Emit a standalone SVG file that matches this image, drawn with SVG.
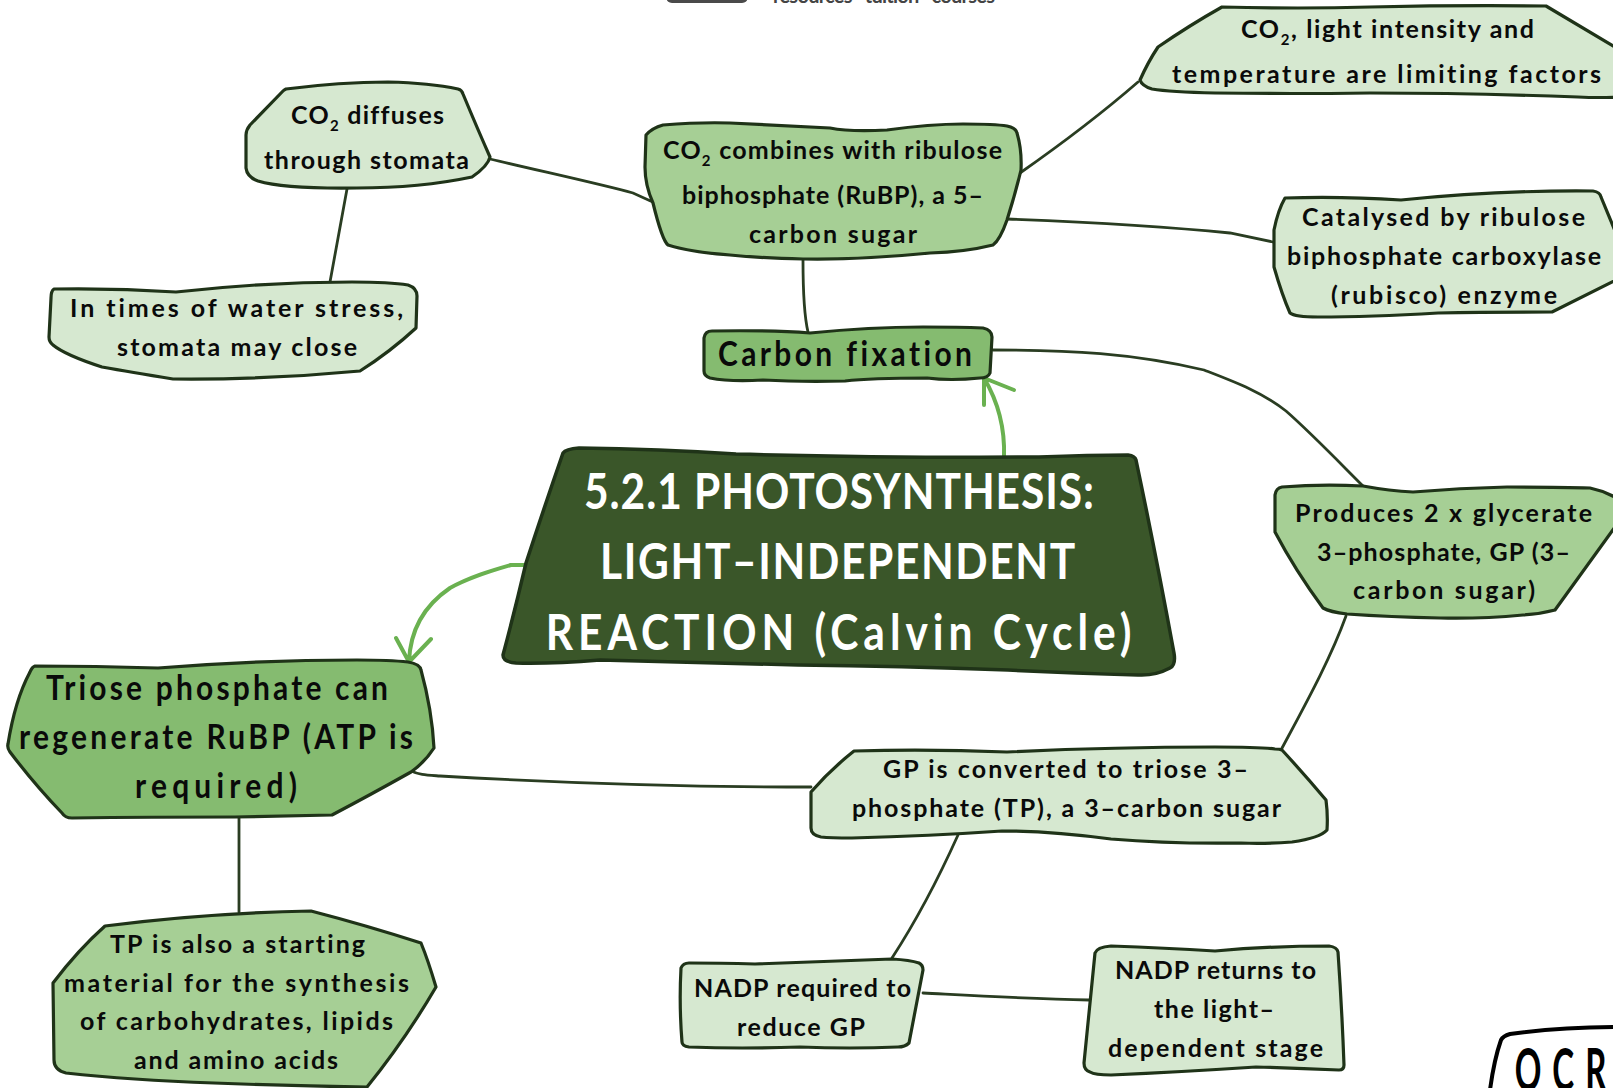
<svg xmlns="http://www.w3.org/2000/svg" width="1613" height="1088" viewBox="0 0 1613 1088">
<style>
text{font-family:"Lato","Noto Sans",sans-serif;font-weight:700;fill:#0a0a0a;font-size:25px;font-variant-ligatures:none}
.t{font-size:34px}
.r{font-size:50px;fill:#fff}
.s{font-size:15px}
.n{stroke:#1f3318;stroke-width:3.2;stroke-linejoin:round}
.l{fill:#d6e8d0}.m{fill:#a6cf95}.d{fill:#85bb70}
.c{fill:none;stroke:#2a3d22;stroke-width:2.8;stroke-linecap:round}
.a{fill:none;stroke:#6ab150;stroke-width:4;stroke-linecap:round;stroke-linejoin:round}
</style>
<rect width="1613" height="1088" fill="#fff"/>
<g id="header">
<rect x="666" y="-30" width="82" height="33" rx="6" fill="#4a4a4a"/>
<text x="773" y="3" textLength="222" style="font-size:20px;fill:#444">resources <tspan fill="#cdeee6" style="fill:#cdeee6">·</tspan> tuition <tspan style="fill:#cdeee6">·</tspan> courses</text>
</g>
<g id="connectors">
<path class="c" d="M490 159C540 171 600 184 633 193L655 203"/>
<path class="c" d="M347 189L330 282"/>
<path class="c" d="M803 260C803 290 804 315 808 332"/>
<path class="c" d="M1020 173C1060 145 1100 115 1138 82"/>
<path class="c" d="M1007 219C1110 223 1180 228 1230 233L1273 242"/>
<path class="c" d="M993 350C1070 350 1132 353 1204 370C1235 382 1262 392 1286 411C1310 432 1335 458 1363 486"/>
<path class="c" d="M1346 616C1330 660 1305 705 1281 750"/>
<path class="c" d="M411 771C420 775 425 775 440 776C560 783 680 787 811 787"/>
<path class="c" d="M958 835C940 875 920 915 892 958"/>
<path class="c" d="M923 993C980 996 1030 999 1089 1000"/>
<path class="c" d="M239 817L239 912"/>
<path class="a" d="M1004 457C1005 430 1000 405 984 378M984 405L984 378L1014 390"/>
<path class="a" d="M526 565L511 565C490 571 470 577 450 588C425 605 410 630 409 662M396 638L409 662L431 639"/>
</g>
<g id="node-co2-diffuses">
<path class="n l" d="M286 89Q340 82 388 82Q430 83 458 89Q462 90 463 94Q478 130 490 157Q488 166 472 177Q420 188 357 188Q285 189 258 181Q247 177 246 168L246 135Q246 130 250 125L283 91Q284 90 286 89Z"/>
<text x="291" y="124" textLength="153">CO<tspan class="s" dy="7">2</tspan><tspan dy="-7"> diffuses</tspan></text>
<text x="264" y="169" textLength="205">through stomata</text>
</g>
<g id="node-water-stress">
<path class="n l" d="M54 289Q115 288 176 292Q265 282 352 282Q390 282 408 285Q417 288 417 296L416 328Q390 352 360 371Q265 380 173 379Q130 372 102 367Q65 355 53 345Q49 342 49 337L51 298Q51 291 54 289Z"/>
<text x="70" y="317" textLength="333">In times of water stress,</text>
<text x="117" y="356" textLength="240">stomata may close</text>
</g>
<g id="node-co2-combines">
<path class="m n" d="M646 135Q652 128 663 125Q700 122 730 123Q790 126 830 128Q850 132 887 130Q930 124 963 124Q995 124 1007 126Q1016 128 1017 133Q1022 150 1021 170Q1015 195 1007 220Q1000 240 993 245Q965 252 930 253Q860 260 803 259Q760 258 730 255Q690 252 668 245Q662 240 653 203Q645 185 645 167Z"/>
<text x="663" y="159" textLength="339">CO<tspan class="s" dy="7">2</tspan><tspan dy="-7"> combines with ribulose</tspan></text>
<text x="682" y="204" textLength="301">biphosphate (RuBP), a 5–</text>
<text x="749" y="243" textLength="168">carbon sugar</text>
</g>
<g id="node-carbon-fixation">
<path class="d n" d="M704 338Q705 331 712 331Q770 330 810 333Q870 327 923 327Q960 327 983 328Q992 330 992 337L990 373Q988 378 980 378Q950 381 927 378Q870 378 845 381Q800 382 763 380Q730 382 710 378Q704 376 704 371Z"/>
<text class="t" transform="scale(.88 1)" x="815.9" y="366" textLength="288.6">Carbon fixation</text>
</g>
<g id="node-limiting">
<path class="l n" d="M1140 80Q1148 62 1158 47Q1190 25 1222 7Q1300 9 1370 7Q1460 5 1546 6L1620 50L1620 97Q1600 98 1578 97Q1470 93 1370 93Q1290 94 1215 93Q1170 92 1152 89Q1142 86 1140 80Z"/>
<text x="1241" y="38" textLength="293">CO<tspan class="s" dy="7">2</tspan><tspan dy="-7">, light intensity and</tspan></text>
<text x="1172" y="83" textLength="429">temperature are limiting factors</text>
</g>
<g id="node-rubisco">
<path class="l n" d="M1285 198Q1340 196 1401 200Q1500 190 1593 191Q1600 192 1601 197L1620 243L1620 278L1552 312Q1490 312 1438 313Q1370 317 1318 317Q1295 317 1290 313Q1282 295 1274 267L1274 230Q1278 210 1285 198Z"/>
<text x="1302" y="226" textLength="283">Catalysed by ribulose</text>
<text x="1287" y="265" textLength="314">biphosphate carboxylase</text>
<text x="1331" y="304" textLength="226">(rubisco) enzyme</text>
</g>
<g id="node-root">
<path fill="#3a5629" stroke="#1f3318" stroke-width="3.5" stroke-linejoin="round" d="M563 453Q566 449 579 448Q660 449 736 454Q890 458 1039 457Q1090 455 1128 455Q1135 456 1136 460Q1155 550 1174 653Q1176 665 1170 668Q1155 676 1138 675Q1070 673 1008 670Q900 666 798 665Q690 662 600 660Q550 664 516 663Q503 662 503 655Q515 610 526 563Q545 505 563 453Z"/>
<text class="r" transform="scale(.85 1)" x="687" y="509" textLength="600">5.2.1 PHOTOSYNTHESIS:</text>
<text class="r" transform="scale(.85 1)" x="706" y="579" textLength="559">LIGHT–INDEPENDENT</text>
<text class="r" transform="scale(.85 1)" x="642" y="650" textLength="689">REACTION (Calvin Cycle)</text>
</g>
<g id="node-produces">
<path class="m n" d="M1275 495Q1276 488 1282 487Q1320 484 1363 486Q1390 491 1413 492Q1460 488 1507 487Q1560 487 1590 488Q1605 491 1620 500L1620 520L1555 610Q1540 614 1523 615Q1480 619 1440 618Q1390 617 1347 614Q1330 612 1323 608Q1295 570 1275 532Z"/>
<text x="1295" y="522" textLength="297">Produces 2 x glycerate</text>
<text x="1317" y="561" textLength="253">3–phosphate, GP (3–</text>
<text x="1353" y="599" textLength="182">carbon sugar)</text>
</g>
<g id="node-gp">
<path class="l n" d="M854 751Q930 749 1007 752Q1110 747 1215 747Q1260 747 1275 749Q1280 749 1282 750Q1305 775 1326 800Q1328 815 1327 830Q1320 838 1292 842Q1265 844 1241 843Q1170 844 1111 839Q1050 831 1002 831Q930 836 852 838Q830 838 821 837Q811 835 811 828L811 792Q830 770 854 751Z"/>
<text x="883" y="778" textLength="365">GP is converted to triose 3–</text>
<text x="852" y="817" textLength="429">phosphate (TP), a 3–carbon sugar</text>
</g>
<g id="node-nadp-reduce">
<path class="l n" d="M681 968Q683 963 689 963Q720 963 755 964Q830 961 892 959Q910 960 919 963Q923 965 923 970L909 1043Q905 1047 898 1047Q850 1049 800 1047Q740 1049 689 1047Q682 1046 682 1042Q679 1005 681 968Z"/>
<text x="694" y="997" textLength="217">NADP required to</text>
<text x="737" y="1036" textLength="128">reduce GP</text>
</g>
<g id="node-nadp-returns">
<path class="l n" d="M1095 953Q1097 947 1111 946Q1165 948 1215 951Q1270 946 1329 946Q1337 947 1338 952Q1342 1010 1344 1065Q1344 1070 1339 1070Q1295 1068 1256 1067Q1180 1072 1111 1075Q1095 1075 1090 1072Q1084 1070 1084 1063Z"/>
<text x="1115" y="979" textLength="201">NADP returns to</text>
<text x="1154" y="1018" textLength="120">the light–</text>
<text x="1108" y="1057" textLength="215">dependent stage</text>
</g>
<g id="node-triose">
<path class="d n" d="M35 666Q95 666 158 668Q260 660 357 660Q390 660 408 662Q420 664 421 670Q432 710 434 748Q425 762 411 772Q370 795 332 815Q280 816 235 817Q150 817 72 818Q65 818 62 813Q35 785 10 752Q7 748 8 744Q15 700 30 672Q32 667 35 666Z"/>
<text class="t" transform="scale(.88 1)" x="52.3" y="700" textLength="388.6">Triose phosphate can</text>
<text class="t" transform="scale(.88 1)" x="21.6" y="749" textLength="447.7">regenerate RuBP (ATP is</text>
<text class="t" transform="scale(.88 1)" x="153.4" y="798" textLength="184">required)</text>
</g>
<g id="node-tp">
<path class="m n" d="M105 926Q205 913 311 911Q365 925 421 943Q428 960 436 987Q405 1040 367 1087Q290 1086 214 1083Q130 1080 66 1073Q54 1070 54 1060L53 983Q78 950 105 926Z"/>
<text x="110" y="953" textLength="255">TP is also a starting</text>
<text x="64" y="992" textLength="345">material for the synthesis</text>
<text x="80" y="1030" textLength="313">of carbohydrates, lipids</text>
<text x="134" y="1069" textLength="204">and amino acids</text>
</g>
<g id="badge-ocr">
<path fill="none" stroke="#000" stroke-width="4" stroke-linecap="round" d="M1490 1090Q1494 1060 1501 1040Q1503 1036 1510 1034Q1560 1027 1620 1027"/>
<text transform="scale(.55 1)" x="2754" y="1091" style="font-size:60px;fill:#000;letter-spacing:20px">OCR</text>
</g>
</svg>
